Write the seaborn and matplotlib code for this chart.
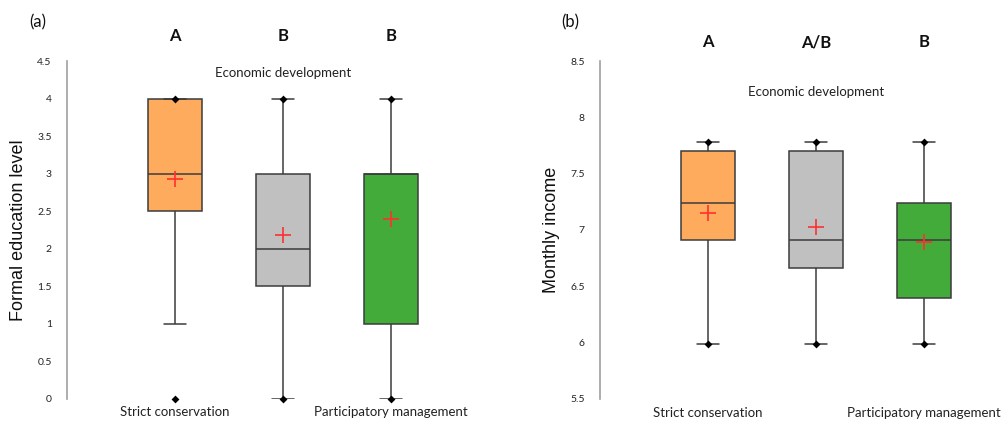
import numpy as np
import pandas as pd
import matplotlib.pyplot as plt
import seaborn as sns

# groups and colours
groups = ["Strict conservation", "Economic development", "Participatory management"]
box_colors = ["#FFAB5E", "#C0C0C0", "#43AB3A"]

# (a) formal education level: whisker ends, quartiles, mean, min/max points
edu_wlo = [1, 0, 0]
edu_q1 = [2.5, 1.5, 1]
edu_med = [3, 2, 3]
edu_q3 = [4, 3, 3]
edu_whi = [4, 4, 4]
edu_mean = [2.93, 2.18, 2.40]
edu_min = [0, 0, 0]
edu_max = [4, 4, 4]
edu_letters = ["A", "B", "B"]
edu_ticks = [0, 0.5, 1, 1.5, 2, 2.5, 3, 3.5, 4, 4.5]

# (b) monthly income
inc_wlo = [5.99, 5.99, 5.99]
inc_q1 = [6.91, 6.66, 6.40]
inc_med = [7.24, 6.91, 6.91]
inc_q3 = [7.70, 7.70, 7.24]
inc_whi = [7.78, 7.78, 7.78]
inc_mean = [7.15, 7.03, 6.89]
inc_min = [5.99, 5.99, 5.99]
inc_max = [7.78, 7.78, 7.78]
inc_letters = ["A", "A/B", "B"]
inc_ticks = [5.5, 6, 6.5, 7, 7.5, 8, 8.5]


def five_numbers(wlo, q1, med, q3, whi):
    # five values per group -> seaborn gives back exactly these quartiles/whiskers
    rows = []
    for g, a, b, c, d, e in zip(groups, wlo, q1, med, q3, whi):
        for v in (a, b, c, d, e):
            rows.append({"group": g, "value": v})
    return pd.DataFrame(rows)


def draw_panel(ax, df, means, mins, maxs, letters, ticks, ylabel,
               letter_y, econ_y, bottom_y):
    sns.boxplot(data=df, x="group", y="value", hue="group", order=groups,
                palette=box_colors, saturation=1, whis=(0, 100), width=0.5,
                linewidth=1.1, linecolor="#3c3c3c", capwidths=0.2,
                legend=False, ax=ax)
    sns.stripplot(x=groups, y=mins, jitter=False, marker="D", size=4,
                  color="black", edgecolor="black", linewidth=0, ax=ax, zorder=5)
    sns.stripplot(x=groups, y=maxs, jitter=False, marker="D", size=4,
                  color="black", edgecolor="black", linewidth=0, ax=ax, zorder=5)
    sns.stripplot(x=groups, y=means, jitter=False, marker="+", size=12,
                  color="#ff3030", edgecolor="#ff3030", linewidth=1.2, ax=ax, zorder=6)
    for c in ax.collections:
        c.set_clip_on(False)

    ax.set_xlim(-1, 2.7)
    ax.set_ylim(ticks[0], ticks[-1])
    ax.set_yticks(ticks)
    ax.set_yticklabels([f"{t:g}" for t in ticks])
    ax.set_xticks([])
    ax.set_xlabel("")
    ax.set_ylabel(ylabel, fontsize=13, family="Liberation Sans", color="#111111")
    ax.yaxis.set_label_coords(-0.10, 0.5)
    sns.despine(ax=ax, bottom=True)
    ax.spines["left"].set_color("#a0a0a0")
    ax.spines["left"].set_linewidth(1.2)
    ax.tick_params(axis="y", length=5, width=1, color="#a0a0a0",
                   labelsize=7.5, labelcolor="#222222", pad=6)

    tr = ax.get_xaxis_transform()
    for i, g in enumerate(groups):
        ax.text(i, letter_y, letters[i], transform=tr, ha="center", va="center",
                fontsize=12, fontweight="bold", color="#111111")
    ax.text(0, bottom_y, groups[0], transform=tr, ha="center", va="center",
            fontsize=9.5, color="#222222")
    ax.text(2, bottom_y, groups[2], transform=tr, ha="center", va="center",
            fontsize=9.5, color="#222222")
    ax.text(1, econ_y, groups[1], transform=tr, ha="center", va="center",
            fontsize=9.5, color="#222222")


sns.set_style("white")
plt.rcParams["font.family"] = ["Lato", "DejaVu Sans"]

fig = plt.figure(figsize=(10.07, 4.21), dpi=100)
ax1 = fig.add_axes([0.0665, 0.0523, 0.397, 0.8028])
ax2 = fig.add_axes([0.5958, 0.0523, 0.397, 0.8028])

draw_panel(ax1, five_numbers(edu_wlo, edu_q1, edu_med, edu_q3, edu_whi),
           edu_mean, edu_min, edu_max, edu_letters, edu_ticks,
           "Formal education level", 1.074, 0.964, -0.038)
draw_panel(ax2, five_numbers(inc_wlo, inc_q1, inc_med, inc_q3, inc_whi),
           inc_mean, inc_min, inc_max, inc_letters, inc_ticks,
           "Monthly income", 1.056, 0.908, -0.041)

fig.text(0.037, 0.948, "(a)", fontsize=12, ha="center", va="center", color="#111111")
fig.text(0.566, 0.948, "(b)", fontsize=12, ha="center", va="center", color="#111111")

fig.savefig("out.png", dpi=100)
